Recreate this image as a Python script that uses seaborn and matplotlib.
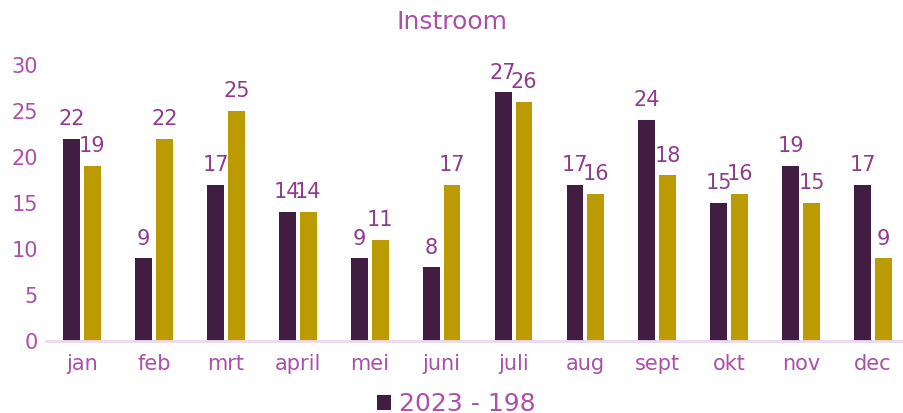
import matplotlib
matplotlib.use("Agg")
import matplotlib.pyplot as plt
import seaborn as sns
import pandas as pd

months = ["jan", "feb", "mrt", "april", "mei", "juni", "juli", "aug", "sept", "okt", "nov", "dec"]
instroom_2023 = [22, 9, 17, 14, 9, 8, 27, 17, 24, 15, 19, 17]
instroom_2024 = [19, 22, 25, 14, 11, 17, 26, 16, 18, 16, 15, 9]
series_names = ["2023", "2024"]

dark = "#421D42"
gold = "#BB9B00"
tick_color = "#AB4FAB"
label_color = "#8E3D8E"

df = pd.DataFrame({
    "maand": months * 2,
    "aantal": instroom_2023 + instroom_2024,
    "jaar": [series_names[0]] * len(months) + [series_names[1]] * len(months),
})

sns.set_style("white")
plt.rcParams["font.family"] = ["DejaVu Sans"]

fig = plt.figure(figsize=(9.04, 4.13), dpi=100)
ax = fig.add_axes([0.051, 0.174, 0.949, 0.669])

sns.barplot(data=df, x="maand", y="aantal", hue="jaar", order=months,
            hue_order=series_names, palette=[dark, gold],
            width=0.58, gap=0.19, saturation=1, linewidth=0,
            ax=ax, legend=True)

for cont in ax.containers:
    ax.bar_label(cont, fontsize=15, color=label_color, padding=7)

ax.set_ylim(0, 30)
ax.set_xlim(-0.5, 11.43)
ax.set_yticks(range(0, 31, 5))
ax.set_xlabel("")
ax.set_ylabel("")
ax.tick_params(axis="both", length=0, labelsize=15, labelcolor=tick_color)
ax.tick_params(axis="x", pad=9)
ax.tick_params(axis="y", pad=6)
for side in ["top", "right", "left"]:
    ax.spines[side].set_visible(False)
ax.spines["bottom"].set_color("#EFD8EF")
ax.spines["bottom"].set_linewidth(2)

handles, labels = ax.get_legend_handles_labels()
ax.get_legend().remove()
fig.legend(handles[:1], [f"{series_names[0]} - {sum(instroom_2023)}"],
           loc="lower center", bbox_to_anchor=(0.505, -0.062), frameon=False,
           fontsize=18, labelcolor=tick_color, handlelength=0.55,
           handleheight=0.55, handletextpad=0.35)

fig.suptitle("Instroom", fontsize=18, color=tick_color, y=0.975)

fig.savefig("out.png", dpi=100)
